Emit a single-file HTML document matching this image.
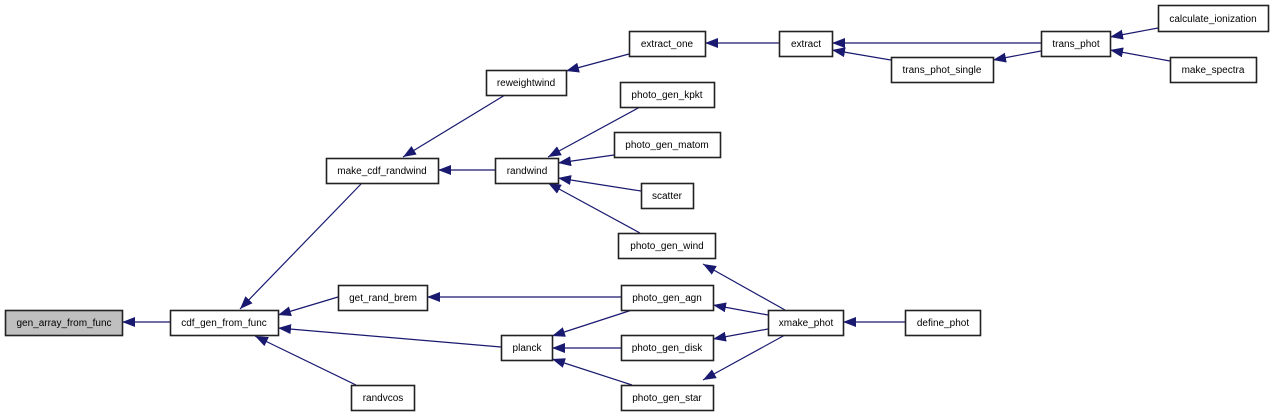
<!DOCTYPE html>
<html><head><meta charset="utf-8"><style>
html,body{margin:0;padding:0;background:#fff;width:1273px;height:417px;overflow:hidden}
svg text{font-family:"Liberation Sans",Arial,sans-serif;font-size:10px;fill:#000}
</style></head><body>
<svg width="1273" height="417" xmlns="http://www.w3.org/2000/svg">
<defs><marker id="a" markerUnits="userSpaceOnUse" markerWidth="14" markerHeight="10" refX="13" refY="5" orient="auto"><path d="M0,0 L13,5 L0,10 z" fill="#191970"/></marker></defs>
<g stroke="#191970" stroke-width="1.2" fill="none" marker-end="url(#a)">
<line x1="170" y1="322" x2="122" y2="322"/>
<line x1="362" y1="183" x2="240" y2="309"/>
<line x1="338" y1="297" x2="278" y2="315"/>
<line x1="501" y1="347" x2="278" y2="328"/>
<line x1="356" y1="385" x2="255" y2="336"/>
<line x1="505" y1="95" x2="403" y2="157"/>
<line x1="495" y1="170" x2="438" y2="170"/>
<line x1="629" y1="54" x2="566" y2="71"/>
<line x1="779" y1="43" x2="705" y2="43"/>
<line x1="1041" y1="43" x2="832" y2="43"/>
<line x1="891" y1="60" x2="832" y2="50"/>
<line x1="1041" y1="51" x2="993" y2="60"/>
<line x1="1158" y1="28" x2="1110" y2="37"/>
<line x1="1170" y1="61" x2="1110" y2="50"/>
<line x1="640" y1="107" x2="548" y2="157"/>
<line x1="614" y1="155" x2="558" y2="163"/>
<line x1="641" y1="191" x2="558" y2="178"/>
<line x1="640" y1="233" x2="548" y2="183"/>
<line x1="621" y1="297" x2="427" y2="297"/>
<line x1="632" y1="310" x2="552" y2="336"/>
<line x1="621" y1="348" x2="552" y2="348"/>
<line x1="632" y1="385" x2="552" y2="359"/>
<line x1="785" y1="310" x2="703" y2="264"/>
<line x1="768" y1="315" x2="713" y2="305"/>
<line x1="768" y1="329" x2="713" y2="339"/>
<line x1="785" y1="335" x2="703" y2="380"/>
<line x1="905" y1="322" x2="843" y2="322"/>
</g>
<g stroke="#222" stroke-width="1.6" fill="#fff">
<rect x="5.5" y="310.5" width="117" height="25" fill="#bfbfbf"/>
<rect x="170.5" y="310.5" width="108" height="25"/>
<rect x="326.5" y="158.5" width="112" height="25"/>
<rect x="338.5" y="285.5" width="89" height="25"/>
<rect x="351.5" y="385.5" width="63" height="25"/>
<rect x="486.5" y="70.5" width="80" height="25"/>
<rect x="629.5" y="31.5" width="76" height="25"/>
<rect x="779.5" y="31.5" width="53" height="25"/>
<rect x="495.5" y="158.5" width="63" height="25"/>
<rect x="620.5" y="82.5" width="94" height="25"/>
<rect x="614.5" y="132.5" width="106" height="25"/>
<rect x="641.5" y="183.5" width="52" height="25"/>
<rect x="618.5" y="233.5" width="97" height="25"/>
<rect x="621.5" y="285.5" width="92" height="25"/>
<rect x="501.5" y="335.5" width="51" height="25"/>
<rect x="621.5" y="335.5" width="92" height="25"/>
<rect x="621.5" y="385.5" width="92" height="25"/>
<rect x="768.5" y="310.5" width="75" height="25"/>
<rect x="905.5" y="310.5" width="75" height="25"/>
<rect x="891.5" y="57.5" width="102" height="25"/>
<rect x="1041.5" y="31.5" width="69" height="25"/>
<rect x="1158.5" y="5.5" width="110" height="26"/>
<rect x="1170.5" y="57.5" width="86" height="25"/>
</g>
<g text-anchor="middle">
<text x="64" y="326">gen_array_from_func</text>
<text x="224" y="326">cdf_gen_from_func</text>
<text x="382" y="174">make_cdf_randwind</text>
<text x="383" y="301">get_rand_brem</text>
<text x="383" y="401">randvcos</text>
<text x="526" y="86">reweightwind</text>
<text x="667" y="47">extract_one</text>
<text x="806" y="47">extract</text>
<text x="527" y="174">randwind</text>
<text x="667" y="98">photo_gen_kpkt</text>
<text x="667" y="148">photo_gen_matom</text>
<text x="667" y="199">scatter</text>
<text x="667" y="249">photo_gen_wind</text>
<text x="667" y="301">photo_gen_agn</text>
<text x="527" y="351">planck</text>
<text x="667" y="351">photo_gen_disk</text>
<text x="667" y="401">photo_gen_star</text>
<text x="806" y="326">xmake_phot</text>
<text x="943" y="326">define_phot</text>
<text x="942" y="73">trans_phot_single</text>
<text x="1076" y="47">trans_phot</text>
<text x="1213" y="22">calculate_ionization</text>
<text x="1213" y="73">make_spectra</text>
</g>
</svg>
</body></html>
